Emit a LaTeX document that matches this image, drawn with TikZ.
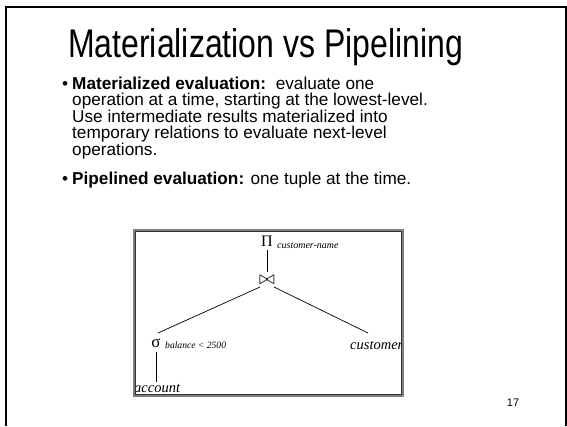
\documentclass[tikz,border=0pt]{standalone}
\usepackage{fontspec}
\setmainfont{Liberation Sans}
\newfontfamily\titlefont[FakeStretch=0.8]{Liberation Sans}
\newfontfamily\seriffont{Liberation Serif}
\begin{document}
\begin{tikzpicture}[x=1pt,y=-1pt,
  body/.style={anchor=base west,inner sep=0pt,font=\fontsize{17.2}{17.2}\selectfont},
  tree/.style={inner sep=0pt,font=\seriffont},
  edge/.style={line width=0.7pt}]
\useasboundingbox (0,0) rectangle (567,426);
\fill[white] (0,0) rectangle (567,426);
% outer frame
\draw[line width=2.5pt] (6,426) -- (6,7) -- (566,7) -- (566,426);
% title
\node[anchor=base west,inner sep=0pt,font=\titlefont\fontsize{40}{40}\selectfont] (title) at (68,57) {Materialization vs Pipelining};
% bullets
\node[body] (b1) at (62,89) {•};
\node[body] (l1) at (72,89) {\textbf{Materialized evaluation:}\ \ evaluate one};
\node[body] (l2) at (72,105.5) {operation at a time, starting at the lowest-level.};
\node[body] (l3) at (72,122) {Use intermediate results materialized into};
\node[body] (l4) at (72,138.5) {temporary relations to evaluate next-level};
\node[body] (l5) at (72,155) {operations.};
\node[body] (b2) at (62,184) {•};
\node[body] (p1) at (72,184) {\textbf{Pipelined evaluation:} one tuple at the time.};
% tree
\begin{scope}
\clip (135,231) rectangle (402,395);
\node[tree,anchor=base,font=\seriffont\fontsize{16}{16}\selectfont] (pi) at (267,246) {Π};
\node[tree,anchor=base west,font=\seriffont\itshape\fontsize{10}{10}\selectfont] (pisub) at (277,248) {customer-name};
\node[tree] (join) at (267,280) {\scalebox{1.9}{$\bowtie$}};
\node[tree,anchor=base,font=\seriffont\fontsize{17}{17}\selectfont] (sigma) at (156,347) {σ};
\node[tree,anchor=base west,font=\seriffont\itshape\fontsize{9.6}{9.6}\selectfont] (sigsub) at (165,348) {balance < 2500};
\node[tree,anchor=base west,font=\seriffont\itshape\fontsize{14.5}{14.5}\selectfont] (cust) at (350,349) {customer};
\node[tree,anchor=base west,font=\seriffont\itshape\fontsize{14.5}{14.5}\selectfont] (acc) at (134,392) {account};
\coordinate (pib) at (267,250);
\coordinate (jt) at (267,272);
\coordinate (jl) at (260,287);
\coordinate (jr) at (274,287);
\coordinate (st) at (158,333);
\coordinate (ct) at (368,333);
\coordinate (sb) at (156,352);
\coordinate (at) at (156,382);
\draw[edge] (pib) -- (jt);
\draw[edge] (jl) -- (st);
\draw[edge] (jr) -- (ct);
\draw[edge] (sb) -- (at);
\end{scope}
% inner box
\draw[gray,line width=2pt] (134,230) rectangle (403,396);
\draw[black!80,line width=0.7pt] (135.5,231.5) rectangle (401.5,394.5);
% page number
\node[anchor=base,inner sep=0pt,font=\fontsize{11}{11}\selectfont] (num) at (513,406) {17};
\end{tikzpicture}
\end{document}
